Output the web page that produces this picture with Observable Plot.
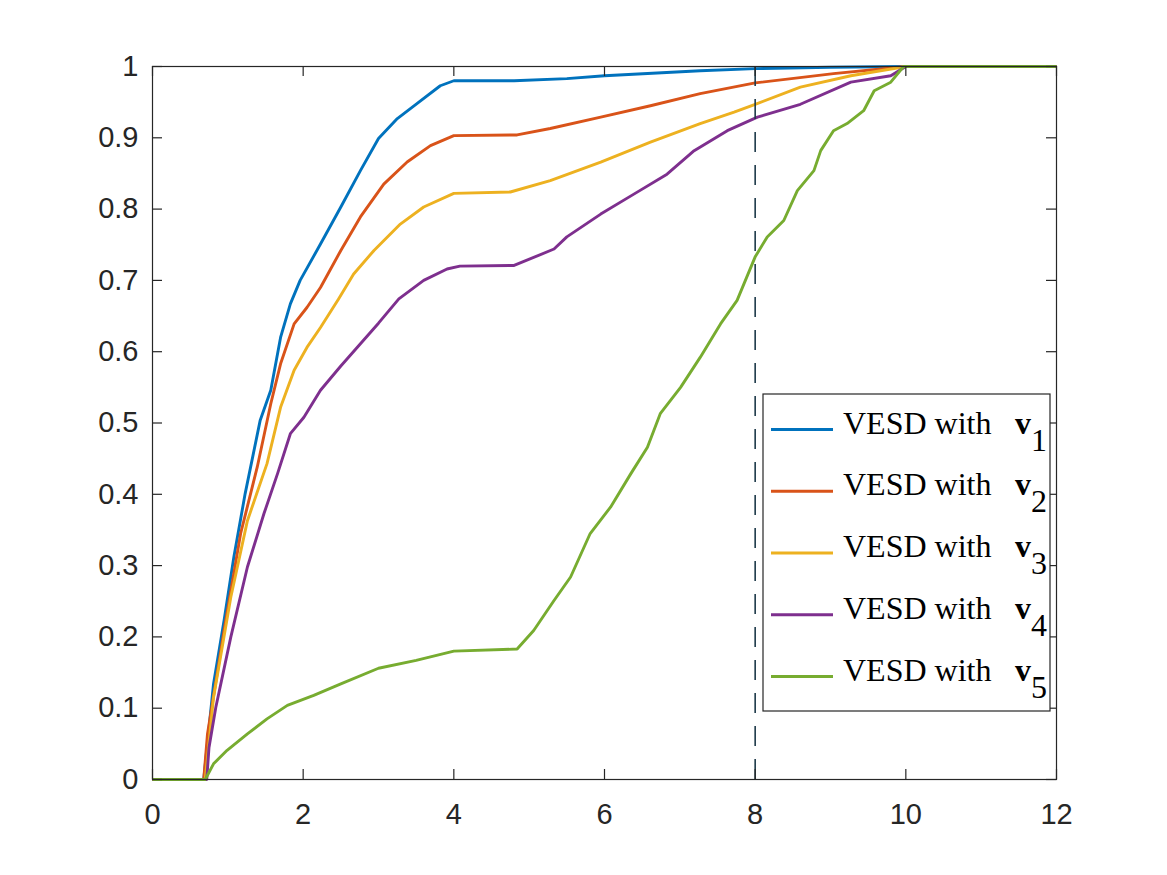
<!DOCTYPE html>
<html>
<head>
<meta charset="utf-8">
<script src="https://cdn.jsdelivr.net/npm/d3@7"></script>
<script src="https://cdn.jsdelivr.net/npm/@observablehq/plot@0.6"></script>
<style>
  html, body { margin: 0; padding: 0; background: #ffffff; }
  #chart { width: 1167px; height: 875px; }
</style>
</head>
<body>
<div id="chart"></div>
<script>
// ---- data ----
const seriesNames = ["1", "2", "3", "4", "5"];
const seriesColors = ["#0072BD", "#D95319", "#EDB120", "#7E2F8E", "#77AC30"];
const legendPrefix = "VESD with";
const legendSymbol = "v";

const v1X = [0, 0.68, 0.81, 0.95, 1.08, 1.23, 1.43, 1.57, 1.70, 1.83, 1.96, 2.23, 2.50, 2.76, 3.0, 3.25, 3.51, 3.82, 4.0, 4.8, 5.5, 6.0, 7.27, 8.0, 9.0, 10.0, 12];
const v1Y = [0, 0, 0.134, 0.223, 0.312, 0.401, 0.504, 0.546, 0.620, 0.667, 0.700, 0.751, 0.803, 0.854, 0.899, 0.927, 0.948, 0.973, 0.980, 0.980, 0.983, 0.987, 0.994, 0.997, 0.999, 1, 1];

const v2X = [0, 0.68, 0.73, 0.95, 1.17, 1.39, 1.57, 1.70, 1.88, 2.05, 2.23, 2.50, 2.76, 3.07, 3.38, 3.69, 4.0, 4.84, 5.28, 5.95, 6.61, 7.27, 8.0, 9.04, 10, 12];
const v2Y = [0, 0, 0.064, 0.209, 0.345, 0.438, 0.527, 0.583, 0.639, 0.662, 0.690, 0.742, 0.789, 0.835, 0.866, 0.889, 0.903, 0.904, 0.913, 0.929, 0.945, 0.962, 0.977, 0.990, 1, 1];

const v3X = [0, 0.70, 0.81, 1.04, 1.26, 1.52, 1.70, 1.88, 2.05, 2.23, 2.47, 2.67, 2.94, 3.29, 3.60, 4.0, 4.75, 5.28, 5.95, 6.61, 7.27, 7.72, 8.0, 8.6, 9.27, 10, 12];
const v3Y = [0, 0, 0.115, 0.256, 0.363, 0.443, 0.522, 0.574, 0.606, 0.634, 0.674, 0.709, 0.742, 0.779, 0.803, 0.822, 0.824, 0.840, 0.866, 0.894, 0.920, 0.936, 0.947, 0.971, 0.987, 1, 1];

const v4X = [0, 0.72, 0.75, 0.84, 1.04, 1.26, 1.48, 1.66, 1.83, 2.01, 2.23, 2.5, 3.0, 3.27, 3.60, 3.91, 4.08, 4.80, 5.33, 5.50, 5.95, 6.39, 6.83, 7.19, 7.63, 8.03, 8.6, 9.27, 9.8, 10, 12];
const v4Y = [0, 0, 0.045, 0.101, 0.200, 0.298, 0.373, 0.429, 0.485, 0.508, 0.546, 0.58, 0.64, 0.674, 0.700, 0.716, 0.720, 0.721, 0.744, 0.761, 0.793, 0.821, 0.849, 0.882, 0.910, 0.929, 0.947, 0.978, 0.987, 1, 1];

const v5X = [0, 0.70, 0.81, 0.99, 1.26, 1.52, 1.79, 2.14, 2.50, 3.0, 3.5, 4.0, 4.84, 5.06, 5.33, 5.55, 5.81, 6.08, 6.35, 6.57, 6.74, 7.01, 7.27, 7.54, 7.76, 8.0, 8.16, 8.38, 8.56, 8.78, 8.87, 9.04, 9.22, 9.44, 9.58, 9.8, 9.97, 12];
const v5Y = [0, 0, 0.022, 0.041, 0.064, 0.085, 0.104, 0.118, 0.134, 0.156, 0.167, 0.180, 0.183, 0.209, 0.251, 0.284, 0.345, 0.382, 0.429, 0.466, 0.513, 0.550, 0.592, 0.639, 0.672, 0.733, 0.761, 0.784, 0.826, 0.854, 0.882, 0.910, 0.920, 0.938, 0.966, 0.978, 1, 1];

const markerX = [8];
const xTicks = [0, 2, 4, 6, 8, 10, 12];
const yTicks = [0, 0.1, 0.2, 0.3, 0.4, 0.5, 0.6, 0.7, 0.8, 0.9, 1];
const yTickLabels = ["0", "0.1", "0.2", "0.3", "0.4", "0.5", "0.6", "0.7", "0.8", "0.9", "1"];

// ---- build table ----
const allX = [v1X, v2X, v3X, v4X, v5X];
const allY = [v1Y, v2Y, v3Y, v4Y, v5Y];
const rows = [];
seriesNames.forEach((s, i) => {
  allX[i].forEach((x, j) => rows.push({series: s, x, y: allY[i][j]}));
});

// ---- layout ----
const W = 1167, H = 875;
const mTop = 66, mBottom = 96, mLeft = 152, mRight = 111;
const innerW = W - mLeft - mRight;
const innerH = H - mTop - mBottom;
const tickLen = 10;
const ink = "#262626";
const sansFont = "'Liberation Sans', Helvetica, Arial, sans-serif";
const serifFont = "'Liberation Serif', 'Times New Roman', Times, serif";

const chart = Plot.plot({
  width: W,
  height: H,
  marginTop: mTop,
  marginBottom: mBottom,
  marginLeft: mLeft,
  marginRight: mRight,
  style: {fontFamily: sansFont, background: "#ffffff", color: ink},
  x: {domain: [0, 12]},
  y: {domain: [0, 1]},
  color: {domain: seriesNames, range: seriesColors},
  marks: [
    Plot.line(rows, {x: "x", y: "y", z: "series", stroke: "series", strokeWidth: 2.9, strokeLinejoin: "round", strokeLinecap: "butt"}),
    Plot.ruleX(markerX, {x: d => d, y1: 0, y2: 1, stroke: "#1e3a4a", strokeWidth: 1.6, strokeDasharray: "20,13"}),
    // inward ticks on all four sides
    Plot.tickX(xTicks, {x: d => d, insetTop: innerH - tickLen, stroke: ink, strokeWidth: 1.2}),
    Plot.tickX(xTicks, {x: d => d, insetBottom: innerH - tickLen, stroke: ink, strokeWidth: 1.2}),
    Plot.tickY(yTicks, {y: d => d, insetRight: innerW - tickLen, stroke: ink, strokeWidth: 1.2}),
    Plot.tickY(yTicks, {y: d => d, insetLeft: innerW - tickLen, stroke: ink, strokeWidth: 1.2}),
    Plot.frame({stroke: ink, strokeWidth: 1.2}),
    Plot.axisX({ticks: xTicks, tickSize: 0, tickPadding: 24, fontSize: 29, label: null, fill: ink, tickFormat: d => String(d)}),
    Plot.axisY({ticks: yTicks, tickSize: 0, tickPadding: 14, fontSize: 29, label: null, fill: ink, tickFormat: (d, i) => yTickLabels[i]})
  ]
});

document.getElementById("chart").appendChild(chart);

// ---- legend (MATLAB-style boxed legend inside axes) ----
const svg = d3.select(chart);
const lg = svg.append("g").attr("class", "legend").attr("text-anchor", "start");
const boxX = 763, boxY = 394, boxW = 287, boxH = 317;
lg.append("rect").attr("x", boxX).attr("y", boxY).attr("width", boxW).attr("height", boxH)
  .attr("fill", "#ffffff").attr("stroke", ink).attr("stroke-width", 1.2);
const rowH = 61.75;
seriesNames.forEach((s, i) => {
  const cy = 429.5 + i * rowH;
  lg.append("line").attr("x1", 771).attr("x2", 833).attr("y1", cy).attr("y2", cy)
    .attr("stroke", seriesColors[i]).attr("stroke-width", 2.9);
  const t = lg.append("text").attr("x", 843).attr("y", cy + 4).attr("text-anchor", "start")
    .attr("font-family", serifFont).attr("font-size", 32).attr("fill", "#000000");
  t.append("tspan").text(legendPrefix);
  t.append("tspan").attr("x", 1015).attr("font-weight", "bold").text(legendSymbol);
  t.append("tspan").attr("x", 1031).attr("dy", 17).text(s);
});
</script>
</body>
</html>
